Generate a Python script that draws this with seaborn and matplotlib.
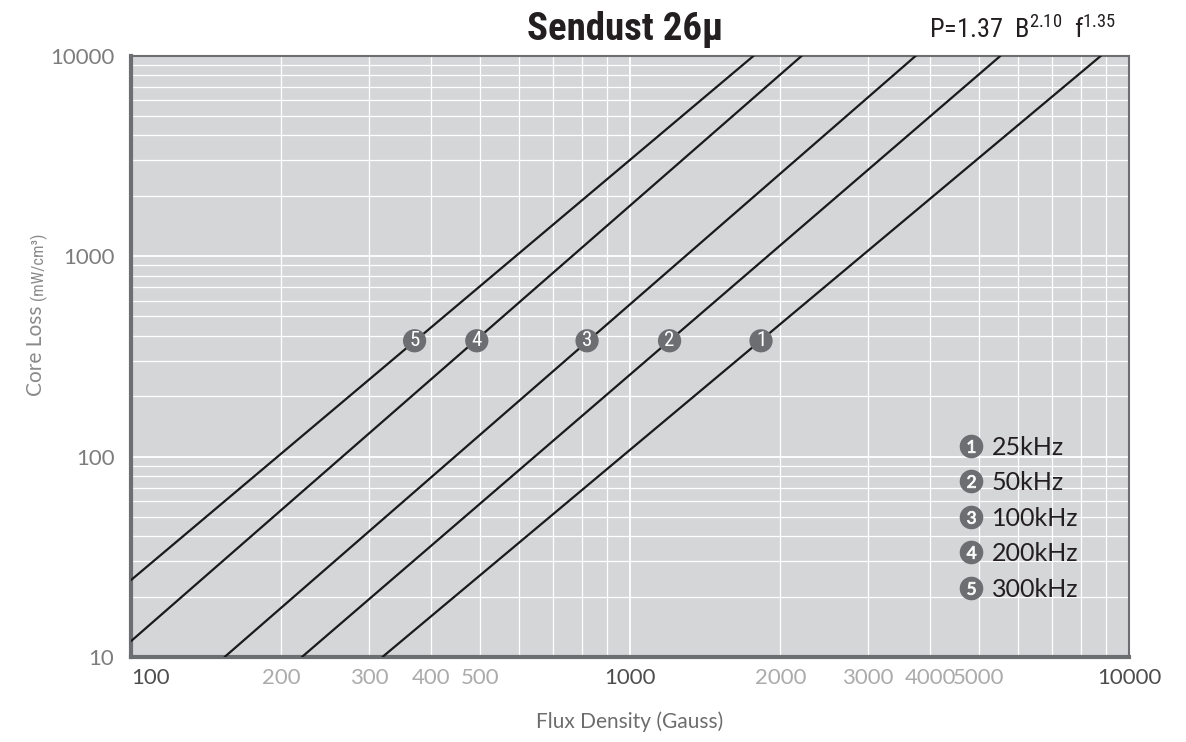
import numpy as np
import pandas as pd
import seaborn as sns
import matplotlib.pyplot as plt
import matplotlib.ticker as ticker
from matplotlib import font_manager
from matplotlib.lines import Line2D
from matplotlib.legend_handler import HandlerTuple

# curves: end points of each straight line (log-log)
freq_labels = ["25kHz", "50kHz", "100kHz", "200kHz", "300kHz"]
curve_ids = ["1", "2", "3", "4", "5"]
flux_start = [319, 220, 154, 100, 100]
loss_start = [10, 10, 10, 12.0, 24.2]
flux_end = [8790, 5530, 3740, 2210, 1770]
loss_end = [10000, 10000, 10000, 10000, 10000]

# numbered badges sitting on the curves
badge_flux = [1830, 1200, 820, 493, 370]
badge_loss = [378, 378, 378, 378, 378]

x_major = [100, 1000, 10000]
x_minor_labeled = [200, 300, 400, 500, 2000, 3000, 4000, 5000]
y_major = [10, 100, 1000, 10000]

sns.set_style("white")
installed = {f.name for f in font_manager.fontManager.ttflist}
narrow = "Lato"
for cand in ["Liberation Sans Narrow", "DejaVu Sans Condensed", "Roboto Condensed",
             "Open Sans Condensed"]:
    if cand in installed:
        narrow = cand
        break
plt.rcParams["font.family"] = ["Lato", "DejaVu Sans"]
plt.rcParams["mathtext.fontset"] = "custom"
plt.rcParams["mathtext.rm"] = narrow
plt.rcParams["mathtext.default"] = "regular"

df = pd.DataFrame({
    "flux": flux_start + flux_end,
    "loss": loss_start + loss_end,
    "freq": freq_labels * 2,
})

fig = plt.figure(figsize=(11.86, 7.42), dpi=100)
ax = fig.add_axes([0.1105, 0.1146, 0.8415, 0.8104])
ax.set_facecolor("#d5d6d8")

sns.lineplot(data=df, x="flux", y="loss", hue="freq", hue_order=freq_labels,
             palette=["#1a1a1a"] * 5, legend=False, estimator=None, sort=False,
             linewidth=1.6, ax=ax, zorder=3)

sns.scatterplot(x=badge_flux, y=badge_loss, color="#6d6e71", s=280,
                edgecolor="none", ax=ax, zorder=4)
for b, l, n in zip(badge_flux, badge_loss, curve_ids):
    ax.text(b, l, n, color="white", ha="center", va="center", fontsize=15,
            family=[narrow, "DejaVu Sans"], zorder=5)

ax.set_xscale("log")
ax.set_yscale("log")
ax.set_xlim(100, 10000)
ax.set_ylim(10, 10000)

# grid
ax.xaxis.set_minor_locator(ticker.LogLocator(base=10, subs=np.arange(2, 10)))
ax.yaxis.set_minor_locator(ticker.LogLocator(base=10, subs=np.arange(2, 10)))
ax.grid(True, which="major", color="white", linewidth=1.3, zorder=1)
ax.grid(True, which="minor", color="white", linewidth=0.9, zorder=1)
ax.set_axisbelow(True)

# ticks
ax.set_xticks(x_major)
ax.set_xticklabels([str(v) for v in x_major])
ax.xaxis.set_minor_formatter(ticker.FuncFormatter(
    lambda v, p: f"{v:.0f}" if int(round(v)) in x_minor_labeled else ""))
ax.set_yticks(y_major)
ax.set_yticklabels([str(v) for v in y_major])
ax.yaxis.set_minor_formatter(ticker.NullFormatter())

ax.tick_params(which="both", length=0)
ax.tick_params(axis="x", which="major", labelsize=16, labelcolor="#4d4d4d", pad=8)
ax.tick_params(axis="x", which="minor", labelsize=16, labelcolor="#ababab", pad=8)
ax.tick_params(axis="y", which="major", labelsize=16, labelcolor="#7d7d7d", pad=12)
ax.get_xticklabels()[0].set_horizontalalignment("left")

for side, sp in ax.spines.items():
    sp.set_visible(True)
    sp.set_color("#6d6e71")
    sp.set_linewidth(3 if side in ("left", "bottom") else 1.5)

# labels
ax.set_xlabel("Flux Density (Gauss)", fontsize=15, color="#6d6d6d")
ax.xaxis.set_label_coords(0.5, -0.108)
ax.xaxis.label.set_va("center")
ax.set_ylabel("")
ax.text(-0.095, 0.594, "Core Loss ", rotation=90, ha="center", va="top",
        fontsize=15, color="#8a8a8a", transform=ax.transAxes)
ax.text(-0.093, 0.594, "(mW/cm³)", rotation=90, ha="center", va="bottom",
        fontsize=12, color="#8a8a8a", family=[narrow, "DejaVu Sans"],
        transform=ax.transAxes)

fig.text(0.527, 0.960, "Sendust 26μ", fontsize=28, fontweight="heavy",
         family=[narrow, "DejaVu Sans"], ha="center", va="center", color="#231f20")
fig.text(0.862, 0.960, r"P=1.37  $B^{2.10}$  $f^{1.35}$", fontsize=19,
         family=[narrow, "DejaVu Sans"], ha="center", va="center", color="#231f20")

# legend with numbered badges
handles = [
    (Line2D([], [], marker="o", ls="", ms=17, mfc="#6d6e71", mec="none"),
     Line2D([], [], marker=f"${n}$", ls="", ms=9, mfc="white", mec="white", mew=0.6))
    for n in curve_ids
]
leg = ax.legend(handles, freq_labels, handler_map={tuple: HandlerTuple(ndivide=1)},
                loc="upper left", bbox_to_anchor=(0.830, 0.368), frameon=False,
                fontsize=18, handlelength=0.95, handletextpad=0.35, labelspacing=0.5,
                borderpad=0, borderaxespad=0)
for t in leg.get_texts():
    t.set_color("#231f20")

fig.savefig("out.png", dpi=100)
